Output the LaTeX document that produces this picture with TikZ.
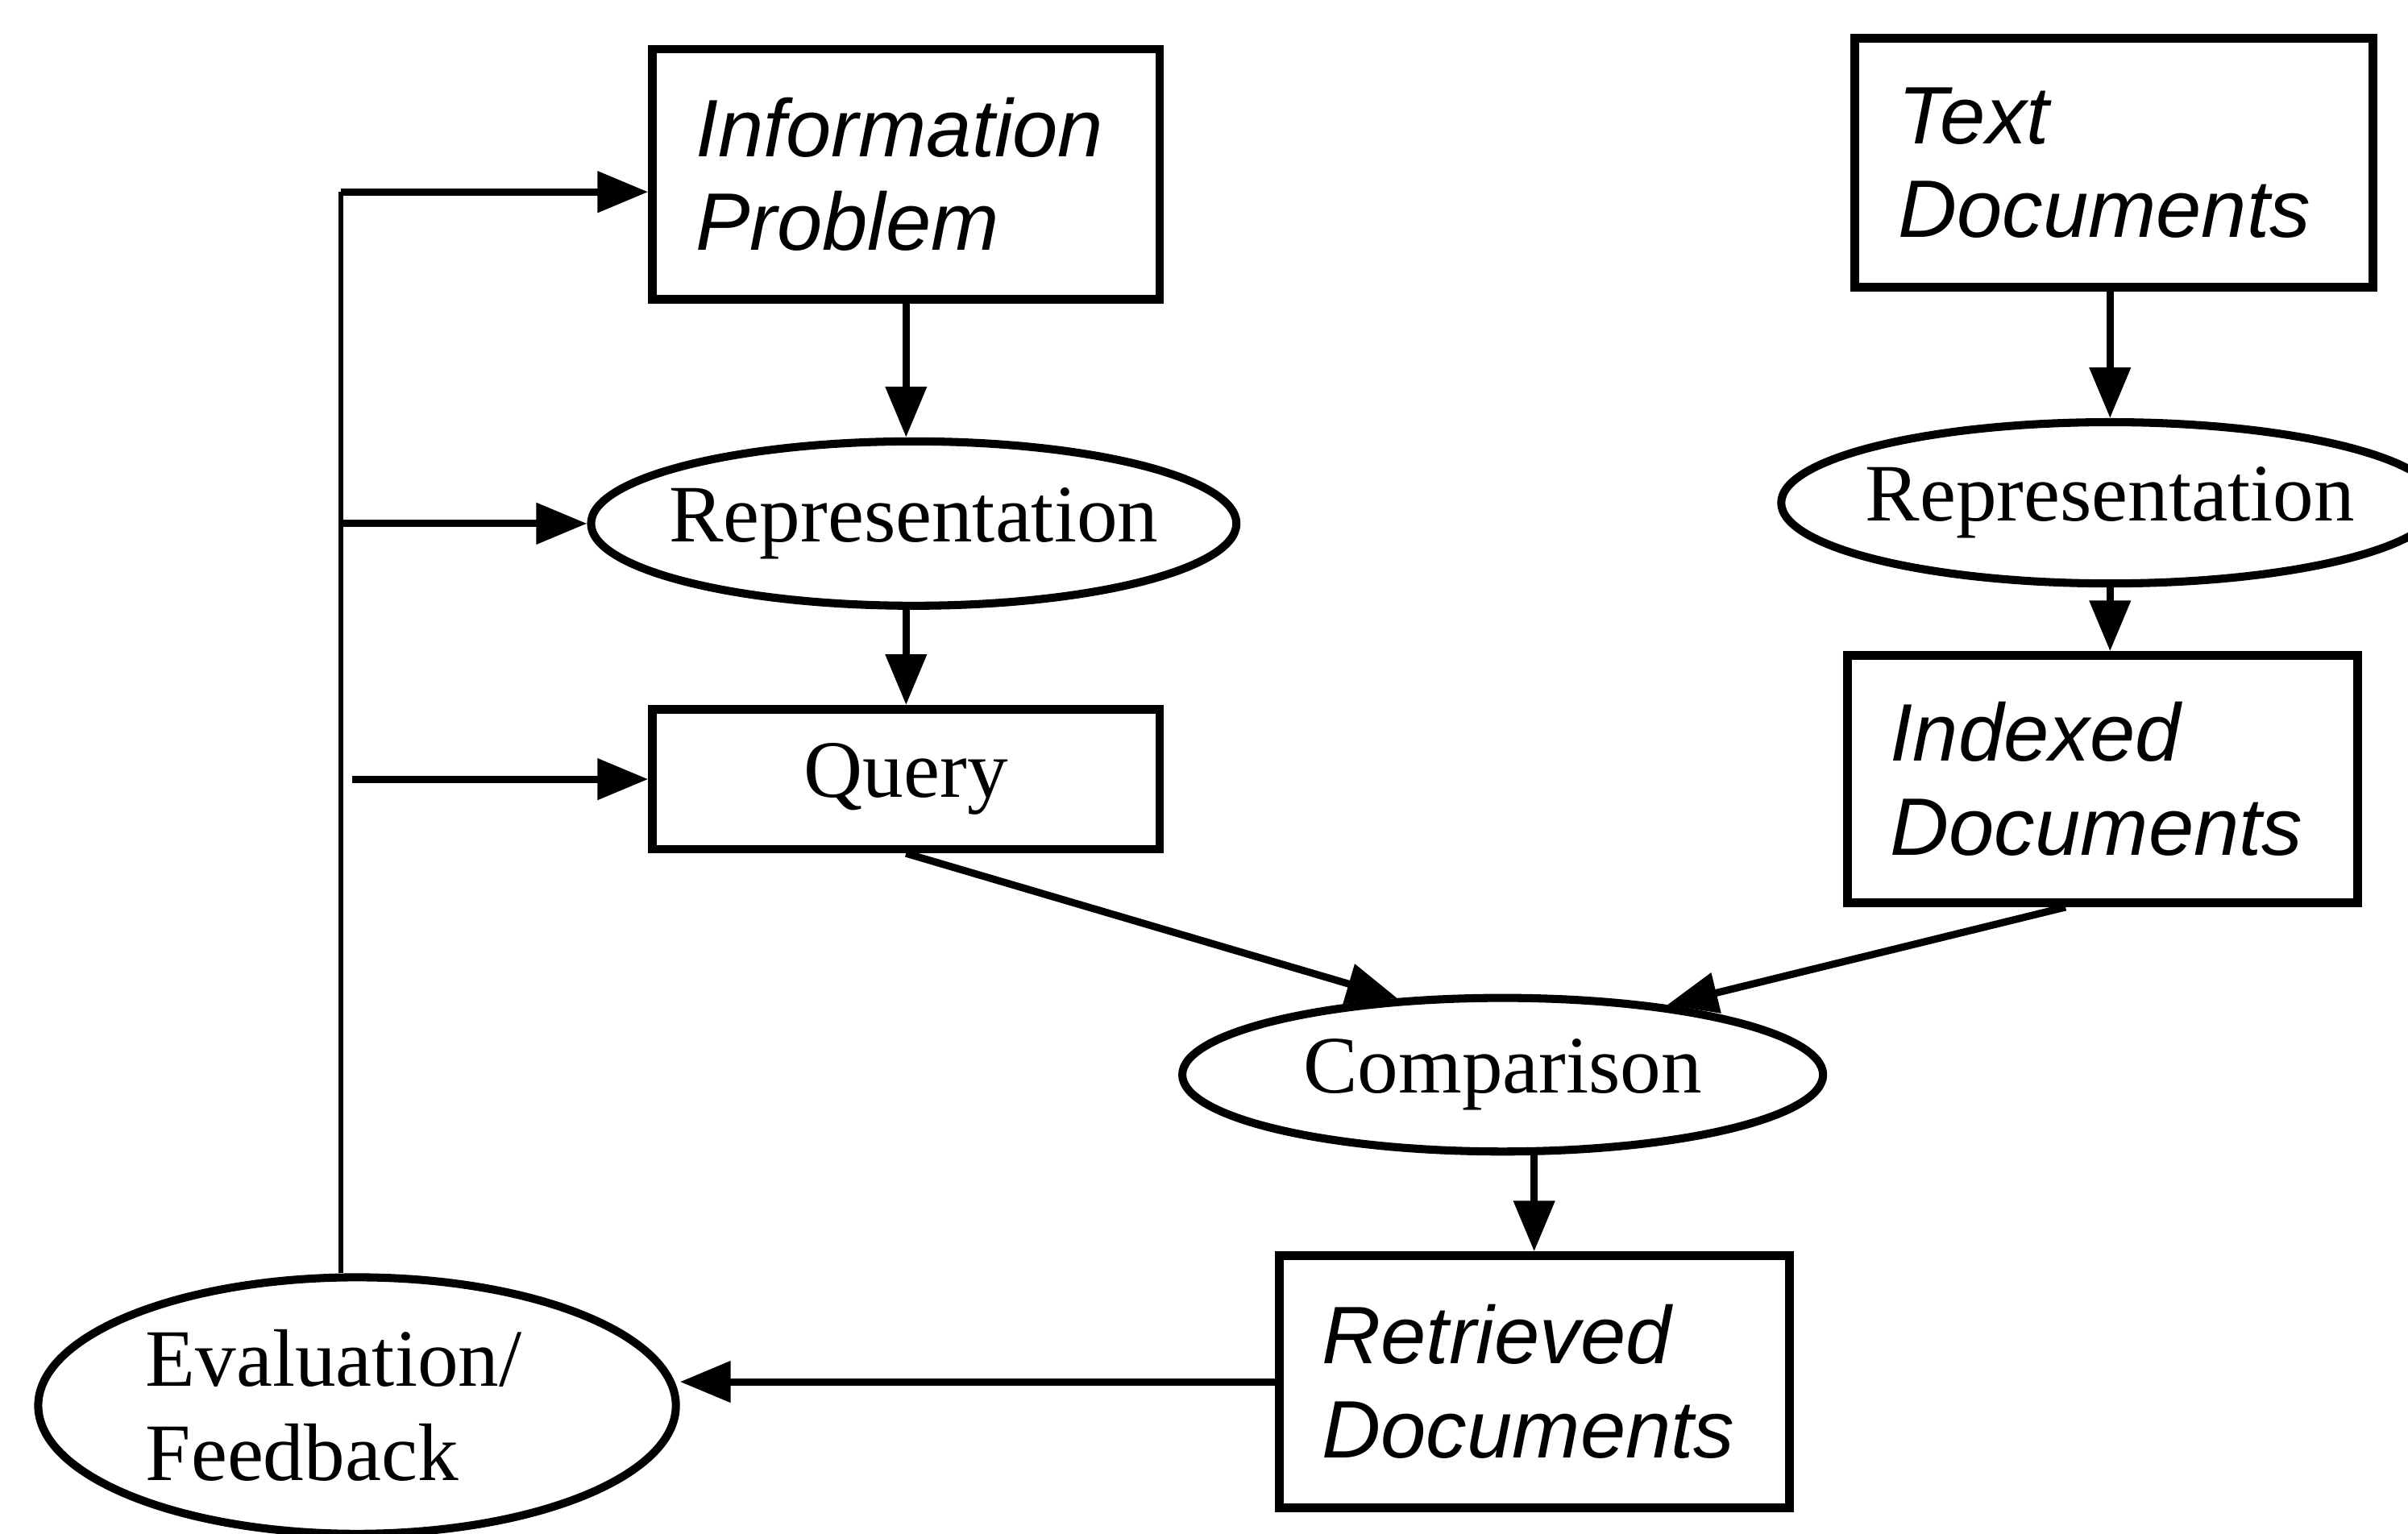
\documentclass[tikz,border=0pt]{standalone}
\usepackage{fontspec}
\setmainfont{Liberation Serif}
\setsansfont{Liberation Sans}
\usetikzlibrary{shapes.geometric,arrows.meta,calc}

\begin{document}
\begin{tikzpicture}[x=0.01cm,y=-0.01cm,
  every node/.style={font=\fontsize{15.1}{17.4}\selectfont},
  docbox/.style={draw, line width=1.6pt, inner xsep=0.28cm, inner ysep=0pt,
    align=left, font=\fontsize{15.1}{17.4}\selectfont\sffamily\itshape},
  plainbox/.style={draw, line width=1.6pt, inner sep=0pt},
  procell/.style={draw, ellipse, line width=1.5pt, inner xsep=-0.3cm, inner ysep=0pt},
  flow/.style={line width=1.35pt, -{Triangle[length=0.33cm,width=0.26cm]}},
  loopline/.style={line width=0.95pt}]
\useasboundingbox (0,0) rectangle (1568,999);

% query side
\node[docbox, text width=2.74cm, minimum height=1.63cm] (ip) at (590,113.5) {Information\\Problem};
\node[procell, minimum width=4.2cm, minimum height=1.07cm] (rep1) at (595,341) {Representation};
\node[plainbox, minimum width=3.30cm, minimum height=0.91cm] (q) at (590,507.5) {Query};

% document side
\node[docbox, text width=2.81cm, minimum height=1.62cm] (td) at (1376.5,106) {Text\\Documents};
\node[procell, minimum width=4.28cm, minimum height=1.05cm] (rep2) at (1374,327.5) {Representation};
\node[docbox, text width=2.76cm, minimum height=1.61cm] (idx) at (1369,507.5) {Indexed\\Documents};

% matching and results
\node[procell, minimum width=4.17cm, minimum height=1.0cm] (comp) at (978.5,700) {Comparison};
\node[docbox, text width=2.76cm, minimum height=1.64cm] (ret) at (999,900) {Retrieved\\Documents};
\node[procell, align=left, text width=2.75cm, minimum width=4.15cm, minimum height=1.67cm] (eval) at (232.5,915.5) {Evaluation/\\Feedback};

% vertical flows
\draw[flow] (ip.south) -- (ip.south |- rep1.north);
\draw[flow] (rep1.south -| q.north) -- (q.north);
\draw[flow] (rep2.north |- td.south) -- (rep2.north);
\draw[flow] (rep2.south) -- (rep2.south |- idx.north);
\draw[flow] (q.south) -- (comp.144);
\draw[flow] ([xshift=-0.24cm]idx.south) -- (comp.23);
\draw[flow] (comp.south -| ret.north) -- (ret.north);
\draw[flow] (ret.west) -- (eval.east |- ret.west);

% feedback loop
\coordinate (fbtop) at (222,125);
\draw[loopline] (eval.north -| fbtop) -- (fbtop);
\draw[flow] (fbtop) -- (fbtop -| ip.west);
\draw[flow] (fbtop |- rep1.west) -- (rep1.west);
\path (q.west) ++(-193,0) coordinate (qsrc);
\draw[flow] (qsrc) -- (q.west);
\end{tikzpicture}
\end{document}
